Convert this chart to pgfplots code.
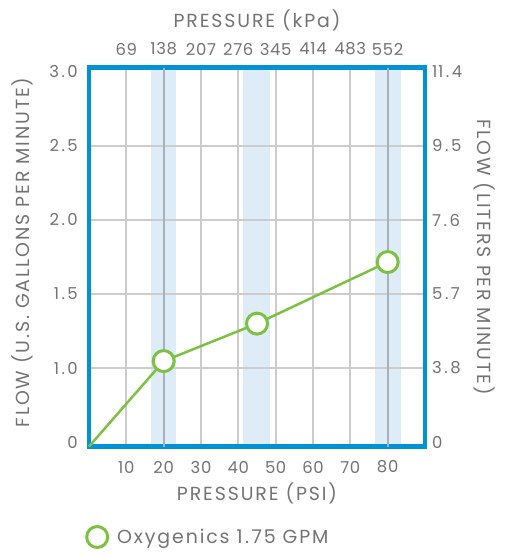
\documentclass[border=0pt]{standalone}
\usepackage{fontspec}
\setmainfont{Poppins}
\newfontfamily\labelfont[LetterSpace=10]{Poppins}
\newfontfamily\tickfont[LetterSpace=4]{Poppins}
\newcommand{\pd}{\kern2.5bp.\kern2.5bp}
\usepackage{pgfplots}
\pgfplotsset{compat=1.18}
\definecolor{frameblue}{RGB}{0,146,215}
\definecolor{linegreen}{RGB}{124,193,66}
\definecolor{bandblue}{RGB}{222,236,247}
\definecolor{gridgray}{RGB}{204,204,204}
\definecolor{darkgrid}{RGB}{168,176,184}
\definecolor{textgray}{RGB}{115,115,115}
\begin{document}
\begin{tikzpicture}
\begin{axis}[
  set layers=standard,
  at={(89bp,-446.5bp)}, anchor=south west,
  scale only axis, width=336bp, height=379bp,
  xmin=0, xmax=90, ymin=0.47, ymax=3.03,
  axis line style={draw=frameblue, line width=4.5bp},
  xtick={10,20,...,80},
  xticklabels={10,20,30,40,50,60,70,80},
  ytick={1,1.5,2,2.5},
  yticklabels={1\pd0,1\pd5,2\pd0,2\pd5},
  extra y ticks={0.5,3},
  extra y tick labels={0,3\pd0},
  extra y tick style={grid=none},
  grid=major,
  major grid style={draw=gridgray, line width=2bp},
  major tick length=0pt,
  tick label style={font=\tickfont\fontsize{16.5}{19}\selectfont, text=textgray, inner sep=0pt},
  xticklabel style={anchor=center, yshift=-20.5bp},
  yticklabel style={anchor=east, xshift=-11bp},
  xlabel={PRESSURE (PSI)},
  ylabel={FLOW (U.S. GALLONS PER MINUTE)},
  label style={font=\labelfont\fontsize{19}{22}\selectfont, text=textgray, inner sep=0pt},
  xlabel style={at={(axis description cs:0.5,-0.123)}, anchor=center},
  ylabel style={at={(axis description cs:-0.199,0.512)}, anchor=center},
  legend style={draw=none, fill=none, at={(axis description cs:-0.0119,-0.2388)}, anchor=west,
    font=\labelfont\fontsize{19}{22}\selectfont, text=textgray, inner sep=0pt, nodes={inner sep=0pt},
    /tikz/every odd column/.append style={column sep=8bp}},
  legend cell align=left,
  clip=false,
]
\addplot[on layer=axis background, fill=bandblue, draw=none, forget plot] coordinates {(16.5,0.47) (23.4,0.47) (23.4,3.03) (16.5,3.03)};
\addplot[on layer=axis background, fill=bandblue, draw=none, forget plot] coordinates {(41.3,0.47) (48.4,0.47) (48.4,3.03) (41.3,3.03)};
\addplot[on layer=axis background, fill=bandblue, draw=none, forget plot] coordinates {(76.6,0.47) (83.5,0.47) (83.5,3.03) (76.6,3.03)};
\addplot[darkgrid, line width=2bp, forget plot] coordinates {(20,0.47) (20,3.03)};
\addplot[darkgrid, line width=2bp, forget plot] coordinates {(80,0.47) (80,3.03)};
\addplot[linegreen, line width=2.5bp, mark=*, mark size=10.5bp,
  mark options={draw=linegreen, fill=white, line width=3bp},
  mark indices={2,3,4}, forget plot]
  coordinates {(0,0.47) (20,1.047) (45,1.30) (80,1.716)};
\addlegendimage{legend image code/.code={\draw[draw=linegreen, fill=white, line width=3bp] (12bp,0bp) circle (10.5bp);}}
\addlegendentry{Oxygenics 1\pd75 GPM}
\end{axis}
\begin{axis}[
  at={(89bp,-446.5bp)}, anchor=south west,
  scale only axis, width=336bp, height=379bp,
  xmin=0, xmax=90, ymin=0.47, ymax=3.03,
  axis line style={draw=none},
  xticklabel pos=upper, yticklabel pos=upper,
  xtick={10,20,...,80},
  xticklabels={69,138,207,276,345,414,483,552},
  ytick={0.5,1,1.5,2,2.5,3},
  yticklabels={0,3\pd8,5\pd7,7\pd6,9\pd5,11\pd4},
  major tick length=0pt,
  tick label style={font=\tickfont\fontsize{16.5}{19}\selectfont, text=textgray, inner sep=0pt},
  xticklabel style={anchor=center, yshift=18.5bp},
  yticklabel style={anchor=west, xshift=7bp},
  xlabel={PRESSURE (kPa)},
  ylabel={FLOW (LITERS PER MINUTE)},
  label style={font=\labelfont\fontsize{19}{22}\selectfont, text=textgray, inner sep=0pt},
  xlabel style={at={(axis description cs:0.5,1.125)}, anchor=center},
  ylabel style={at={(axis description cs:1.176,0.5)}, anchor=center, rotate=180},
]
\addplot[draw=none, forget plot] coordinates {(0,0.47) (90,3.03)};
\end{axis}
\path[use as bounding box] (0bp,0bp) rectangle (507bp,-556bp);
\end{tikzpicture}
\end{document}
